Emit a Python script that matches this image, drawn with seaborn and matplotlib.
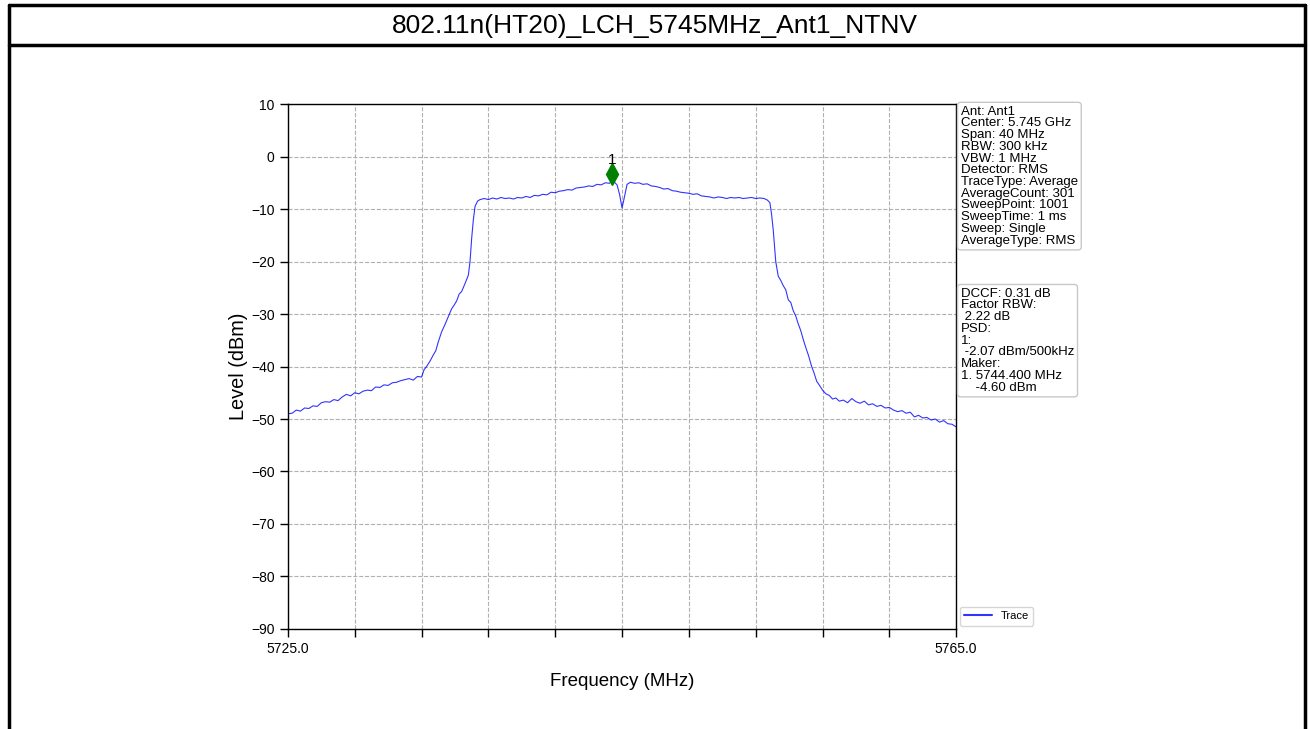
import matplotlib
matplotlib.use("Agg")
import matplotlib.pyplot as plt
import matplotlib.transforms as mtransforms
from matplotlib.lines import Line2D
import pandas as pd
import seaborn as sns

# trace (MHz, dBm)
freq_mhz = [
    # left skirt
    5725.00, 5725.25, 5725.50, 5725.75, 5726.00, 5726.25, 5726.50, 5726.75,
    5727.00, 5727.25, 5727.50, 5727.75, 5728.00, 5728.25, 5728.50, 5728.75,
    5729.00, 5729.25, 5729.50, 5729.75, 5730.00, 5730.25, 5730.50, 5730.75,
    5731.00, 5731.25, 5731.50, 5731.75, 5732.00, 5732.25, 5732.50, 5732.75,
    5733.00,
    # left edge
    5733.15, 5733.30, 5733.50, 5733.70, 5733.85, 5734.00, 5734.20, 5734.40,
    5734.60, 5734.80, 5734.95, 5735.10, 5735.25, 5735.40, 5735.60, 5735.80,
    5735.90, 5736.00, 5736.10, 5736.20, 5736.35, 5736.50,
    # in-band
    5736.75, 5737.00, 5737.25, 5737.50, 5737.75, 5738.00, 5738.25, 5738.50,
    5738.75, 5739.00, 5739.25, 5739.50, 5739.75, 5740.00, 5740.25, 5740.50,
    5740.75, 5741.00, 5741.25, 5741.50, 5741.75, 5742.00, 5742.25, 5742.50,
    5742.75, 5743.00, 5743.25, 5743.50, 5743.75, 5744.00, 5744.25, 5744.40,
    5744.55, 5744.70, 5744.85, 5745.00, 5745.15, 5745.30, 5745.50, 5745.75,
    5746.00, 5746.25, 5746.50, 5746.75, 5747.00, 5747.25, 5747.50, 5747.75,
    5748.00, 5748.25, 5748.50, 5748.75, 5749.00, 5749.25, 5749.50, 5749.75,
    5750.00, 5750.25, 5750.50, 5750.75, 5751.00, 5751.25, 5751.50, 5751.75,
    5752.00, 5752.25, 5752.50, 5752.75, 5753.00, 5753.25, 5753.50, 5753.70,
    # right edge
    5753.85, 5753.95, 5754.05, 5754.20, 5754.35, 5754.50, 5754.65, 5754.80,
    5754.95, 5755.10, 5755.25, 5755.40, 5755.55, 5755.70, 5755.85, 5756.00,
    5756.15, 5756.35, 5756.50, 5756.65, 5756.80, 5757.00, 5757.20, 5757.40,
    5757.60, 5757.80,
    # right skirt
    5758.00, 5758.25, 5758.50, 5758.75, 5759.00, 5759.25, 5759.50, 5759.75,
    5760.00, 5760.25, 5760.50, 5760.75, 5761.00, 5761.25, 5761.50, 5761.75,
    5762.00, 5762.25, 5762.50, 5762.75, 5763.00, 5763.25, 5763.50, 5763.75,
    5764.00, 5764.25, 5764.50, 5764.75, 5765.00,
]
level_dbm = [
    -49.0, -48.9, -48.3, -48.5, -47.9, -48.0, -47.5, -47.6,
    -46.9, -46.7, -46.8, -46.3, -46.5, -45.8, -45.3, -45.6,
    -45.0, -45.2, -44.7, -44.5, -44.6, -43.9, -44.0, -43.5,
    -43.6, -43.1, -43.0, -42.7, -42.5, -42.3, -42.6, -41.9,
    -42.0,
    -40.6, -40.0, -39.0, -37.8, -37.0, -35.3, -33.4, -32.0,
    -30.5, -29.0, -28.3, -27.5, -26.2, -25.7, -24.2, -22.6,
    -20.0, -15.5, -12.0, -9.5, -8.5, -8.2,
    -8.0, -8.2, -7.9, -8.1, -7.8, -8.0, -7.9, -8.1,
    -7.8, -7.9, -7.6, -7.8, -7.4, -7.5, -7.2, -7.3,
    -6.8, -6.9, -6.6, -6.5, -6.3, -6.4, -6.0, -5.9,
    -5.8, -5.6, -5.7, -5.3, -5.4, -5.0, -5.1, -4.6,
    -4.9, -5.4, -7.2, -9.8, -7.6, -5.3, -4.9, -5.1,
    -5.0, -5.3, -5.2, -5.6, -5.7, -5.9, -6.2, -6.1,
    -6.5, -6.6, -6.8, -6.9, -7.0, -7.2, -7.1, -7.5,
    -7.6, -7.7, -7.9, -7.7, -7.8, -8.0, -7.8, -7.9,
    -7.8, -8.0, -7.9, -7.8, -8.0, -7.9, -8.0, -8.3,
    -8.8, -11.0, -14.0, -20.0, -22.8, -23.6, -24.6, -25.4,
    -27.3, -27.8, -29.4, -30.4, -31.9, -33.2, -34.9, -36.4,
    -37.8, -40.0, -41.3, -42.8, -43.5, -44.5, -45.2, -45.5,
    -46.2, -46.0,
    -46.6, -46.4, -46.9, -46.1, -46.7, -47.0, -46.6, -47.3,
    -47.1, -47.6, -47.4, -47.9, -47.8, -48.3, -48.6, -48.4,
    -48.9, -48.7, -49.6, -49.3, -49.8, -49.7, -50.2, -50.0,
    -50.6, -50.3, -50.9, -51.0, -51.5,
]

marker_freq = 5744.4
marker_level = -4.60

title = "802.11n(HT20)_LCH_5745MHz_Ant1_NTNV"
x_ticks = [5725 + 4 * i for i in range(11)]
x_tick_labels = ["5725.0"] + [""] * 9 + ["5765.0"]
y_ticks = list(range(-90, 11, 10))

info_text = ("Ant: Ant1\nCenter: 5.745 GHz\nSpan: 40 MHz\nRBW: 300 kHz\nVBW: 1 MHz\n"
             "Detector: RMS\nTraceType: Average\nAverageCount: 301\nSweepPoint: 1001\n"
             "SweepTime: 1 ms\nSweep: Single\nAverageType: RMS")
psd_text = ("DCCF: 0.31 dB\nFactor RBW:\n 2.22 dB\nPSD:\n1:\n -2.07 dBm/500kHz\n"
            "Maker:\n1. 5744.400 MHz\n    -4.60 dBm")

sns.set_style("ticks")
plt.rcParams['font.family'] = ['Liberation Sans', 'DejaVu Sans']
plt.rcParams['text.color'] = 'black'
plt.rcParams['axes.labelcolor'] = 'black'
plt.rcParams['xtick.color'] = 'black'
plt.rcParams['ytick.color'] = 'black'

df = pd.DataFrame({'freq': freq_mhz, 'level': level_dbm})

fig = plt.figure(figsize=(13.1, 7.29), dpi=100)
ax = fig.add_axes([0.2198, 0.1372, 0.5101, 0.7201])

sns.lineplot(data=df, x='freq', y='level', ax=ax, color='#0000ff', alpha=0.8,
             linewidth=0.8, label='Trace')

# marker drawn a little above the trace point
offset = mtransforms.offset_copy(ax.transData, fig=fig, x=0, y=7, units='dots')
ax.plot([marker_freq], [marker_level], marker='d', color='green', markersize=11,
        linestyle='none', transform=offset)
ax.text(marker_freq, marker_level, "1", transform=mtransforms.offset_copy(
    ax.transData, fig=fig, x=0, y=14, units='dots'),
    ha='center', va='bottom', fontsize=11)

ax.set_xlim(5725, 5765)
ax.set_ylim(-90, 10)
ax.set_xticks(x_ticks)
ax.set_xticklabels(x_tick_labels)
ax.set_yticks(y_ticks)
ax.tick_params(labelsize=10, length=6, width=1)
ax.grid(True, linestyle='--', color='#b0b0b0', linewidth=0.8)
for s in ax.spines.values():
    s.set_visible(True)
    s.set_linewidth(1.0)
    s.set_color('black')

ax.set_xlabel("Frequency (MHz)", fontsize=13.5, labelpad=12)
ax.set_ylabel("Level (dBm)", fontsize=14.3, labelpad=2)

box = dict(boxstyle='round,pad=0.25', facecolor='white', edgecolor='#c8c8c8', linewidth=1)
ax.text(1.007, 0.997, info_text, transform=ax.transAxes, fontsize=9.5, va='top',
        ha='left', linespacing=0.97, bbox=box)
ax.text(1.007, 0.65, psd_text, transform=ax.transAxes, fontsize=9.5, va='top',
        ha='left', linespacing=0.97, bbox=box)

leg = ax.legend(loc='lower left', bbox_to_anchor=(1.0, 0.0), fontsize=8, frameon=True,
                handlelength=2.5, borderaxespad=0.3)
for h in leg.get_lines():
    h.set_linewidth(1.5)

# page frame around the chart
fig.text(0.5, 0.965, title, ha='center', va='center', fontsize=19)
lw = 2.5
fig.add_artist(Line2D([0.0065, 0.9962], [0.9932, 0.9932], color='black', linewidth=lw))
fig.add_artist(Line2D([0.0065, 0.9962], [0.9386, 0.9386], color='black', linewidth=lw))
fig.add_artist(Line2D([0.0065, 0.0065], [0.0, 0.9932], color='black', linewidth=lw))
fig.add_artist(Line2D([0.9962, 0.9962], [0.0, 0.9932], color='black', linewidth=lw))

fig.savefig('out.png', dpi=100)
